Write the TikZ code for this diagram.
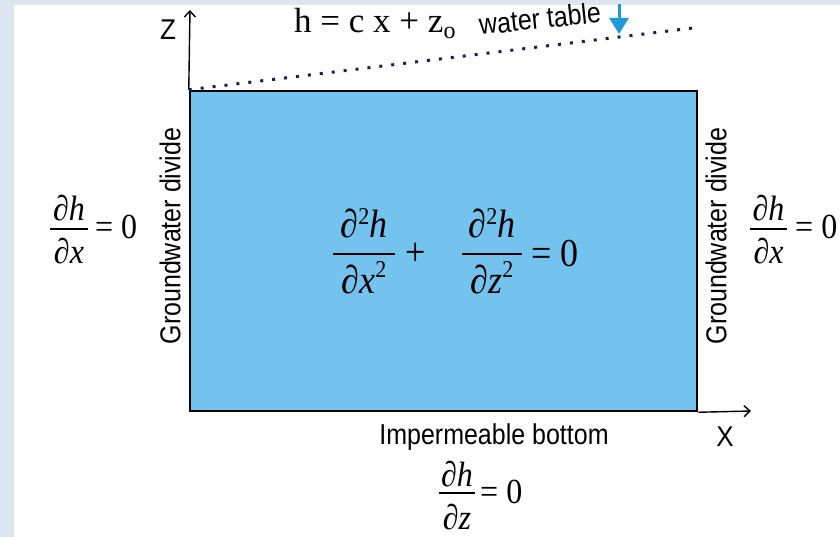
\documentclass[tikz,border=0pt]{standalone}
\usepackage{fontspec}
\setmainfont{Liberation Serif}
\setsansfont{Liberation Sans}
\usetikzlibrary{arrows.meta}
\definecolor{bandgray}{HTML}{DCE6F0}
\definecolor{water}{HTML}{74C3EE}
\definecolor{dotnavy}{HTML}{1C1C5C}
\definecolor{arrowblue}{HTML}{1E9AD6}
\tikzset{
  lbl/.style={font=\sffamily\fontsize{25}{30}\selectfont, inner sep=0pt},
  axlbl/.style={font=\sffamily\fontsize{26}{30}\selectfont, inner sep=0pt, yscale=1.1},
  mth/.style={font=\itshape\fontsize{32}{36}\selectfont, inner sep=0pt, yscale=1.1},
  mthup/.style={font=\fontsize{32}{36}\selectfont, inner sep=0pt, yscale=1.1},
  bigmth/.style={font=\itshape\fontsize{36}{40}\selectfont, inner sep=0pt, yscale=1.1},
  bigmthup/.style={font=\fontsize{36}{40}\selectfont, inner sep=0pt, yscale=1.1},
  fracrule/.style={line width=1.4pt},
  axis/.style={line width=1.4pt, -{Straight Barb[length=6pt,width=11pt,line width=1.4pt]}}
}
\newcommand{\sqr}[1]{\raisebox{#1}{\upshape\fontsize{22}{22}\selectfont 2}}
\begin{document}
\begin{tikzpicture}[x=1pt,y=-1pt]
\useasboundingbox (0,0) rectangle (840,537);
\fill[bandgray] (0,0) rectangle (840,537);
\fill[white] (14,5) rectangle (840,537);
% aquifer box
\node[draw=black, line width=2.5pt, fill=water, minimum width=507pt, minimum height=320pt, inner sep=0pt] (box) at (443.5,251) {};
% axes
\coordinate (ztip) at (190,10);
\coordinate (xtip) at (751,411);
\draw[axis] (box.north west) -- (ztip);
\draw[axis] (box.south east) -- (xtip);
\node[axlbl] (zl) at (168,30) {Z};
\node[axlbl] (xl) at (725,437) {X};
% water table
\coordinate (wtend) at (693,28);
\draw[dotnavy, line width=3pt, dash pattern=on 3pt off 9pt] (box.north west) -- (wtend);
\node[lbl, anchor=base west, rotate=6, yscale=1.15] (wt) at (480,35) {water table};
\coordinate (wa1) at (619,4);
\coordinate (wa2) at (619,34);
\draw[arrowblue, line width=3pt, -{Triangle[length=16pt,width=19pt]}] (wa1) -- (wa2);
\node[font=\fontsize{35}{38}\selectfont, inner sep=0pt, anchor=base west] (heq) at (294,33) {h = c x + z\raisebox{-6pt}{\fontsize{24}{24}\selectfont o}};
% groundwater divides
\node[lbl, rotate=90, yscale=1.15] (gdl) at (170,236) {Groundwater divide};
\node[lbl, rotate=90, yscale=1.15] (gdr) at (716,236) {Groundwater divide};
% left BC
\coordinate (lr1) at (50,229); \coordinate (lr2) at (88,229);
\draw[fracrule] (lr1) -- (lr2);
\node[mth, anchor=base] (ln) at (69,221) {∂h};
\node[mth, anchor=base] (ld) at (69,263) {∂x};
\node[mthup, anchor=base west] (le) at (95,239) {= 0};
% right BC
\coordinate (rr1) at (750,229); \coordinate (rr2) at (787,229);
\draw[fracrule] (rr1) -- (rr2);
\node[mth, anchor=base] (rn) at (768.5,221) {∂h};
\node[mth, anchor=base] (rd) at (768.5,263) {∂x};
\node[mthup, anchor=base west] (re) at (795,239) {= 0};
% bottom BC
\node[lbl, anchor=base, yscale=1.15] (ib) at (494,444) {Impermeable bottom};
\coordinate (br1) at (439,493); \coordinate (br2) at (475,493);
\draw[fracrule] (br1) -- (br2);
\node[mth, anchor=base] (bn) at (457,486) {∂h};
\node[mth, anchor=base] (bd) at (457,529) {∂z};
\node[mthup, anchor=base west] (be) at (480,503) {= 0};
% Laplace
\coordinate (c1a) at (333,254); \coordinate (c1b) at (395,254);
\draw[fracrule] (c1a) -- (c1b);
\node[bigmth, anchor=base] (c1n) at (364,238) {∂\sqr{12pt}h};
\node[bigmth, anchor=base] (c1d) at (364,293) {∂x\sqr{14pt}};
\node[bigmthup] (plus) at (416,254) {+};
\coordinate (c2a) at (462,254); \coordinate (c2b) at (522,254);
\draw[fracrule] (c2a) -- (c2b);
\node[bigmth, anchor=base] (c2n) at (492,238) {∂\sqr{12pt}h};
\node[bigmth, anchor=base] (c2d) at (492,293) {∂z\sqr{14pt}};
\node[bigmthup, anchor=base west] (ce) at (531,266) {= 0};
\end{tikzpicture}
\end{document}
